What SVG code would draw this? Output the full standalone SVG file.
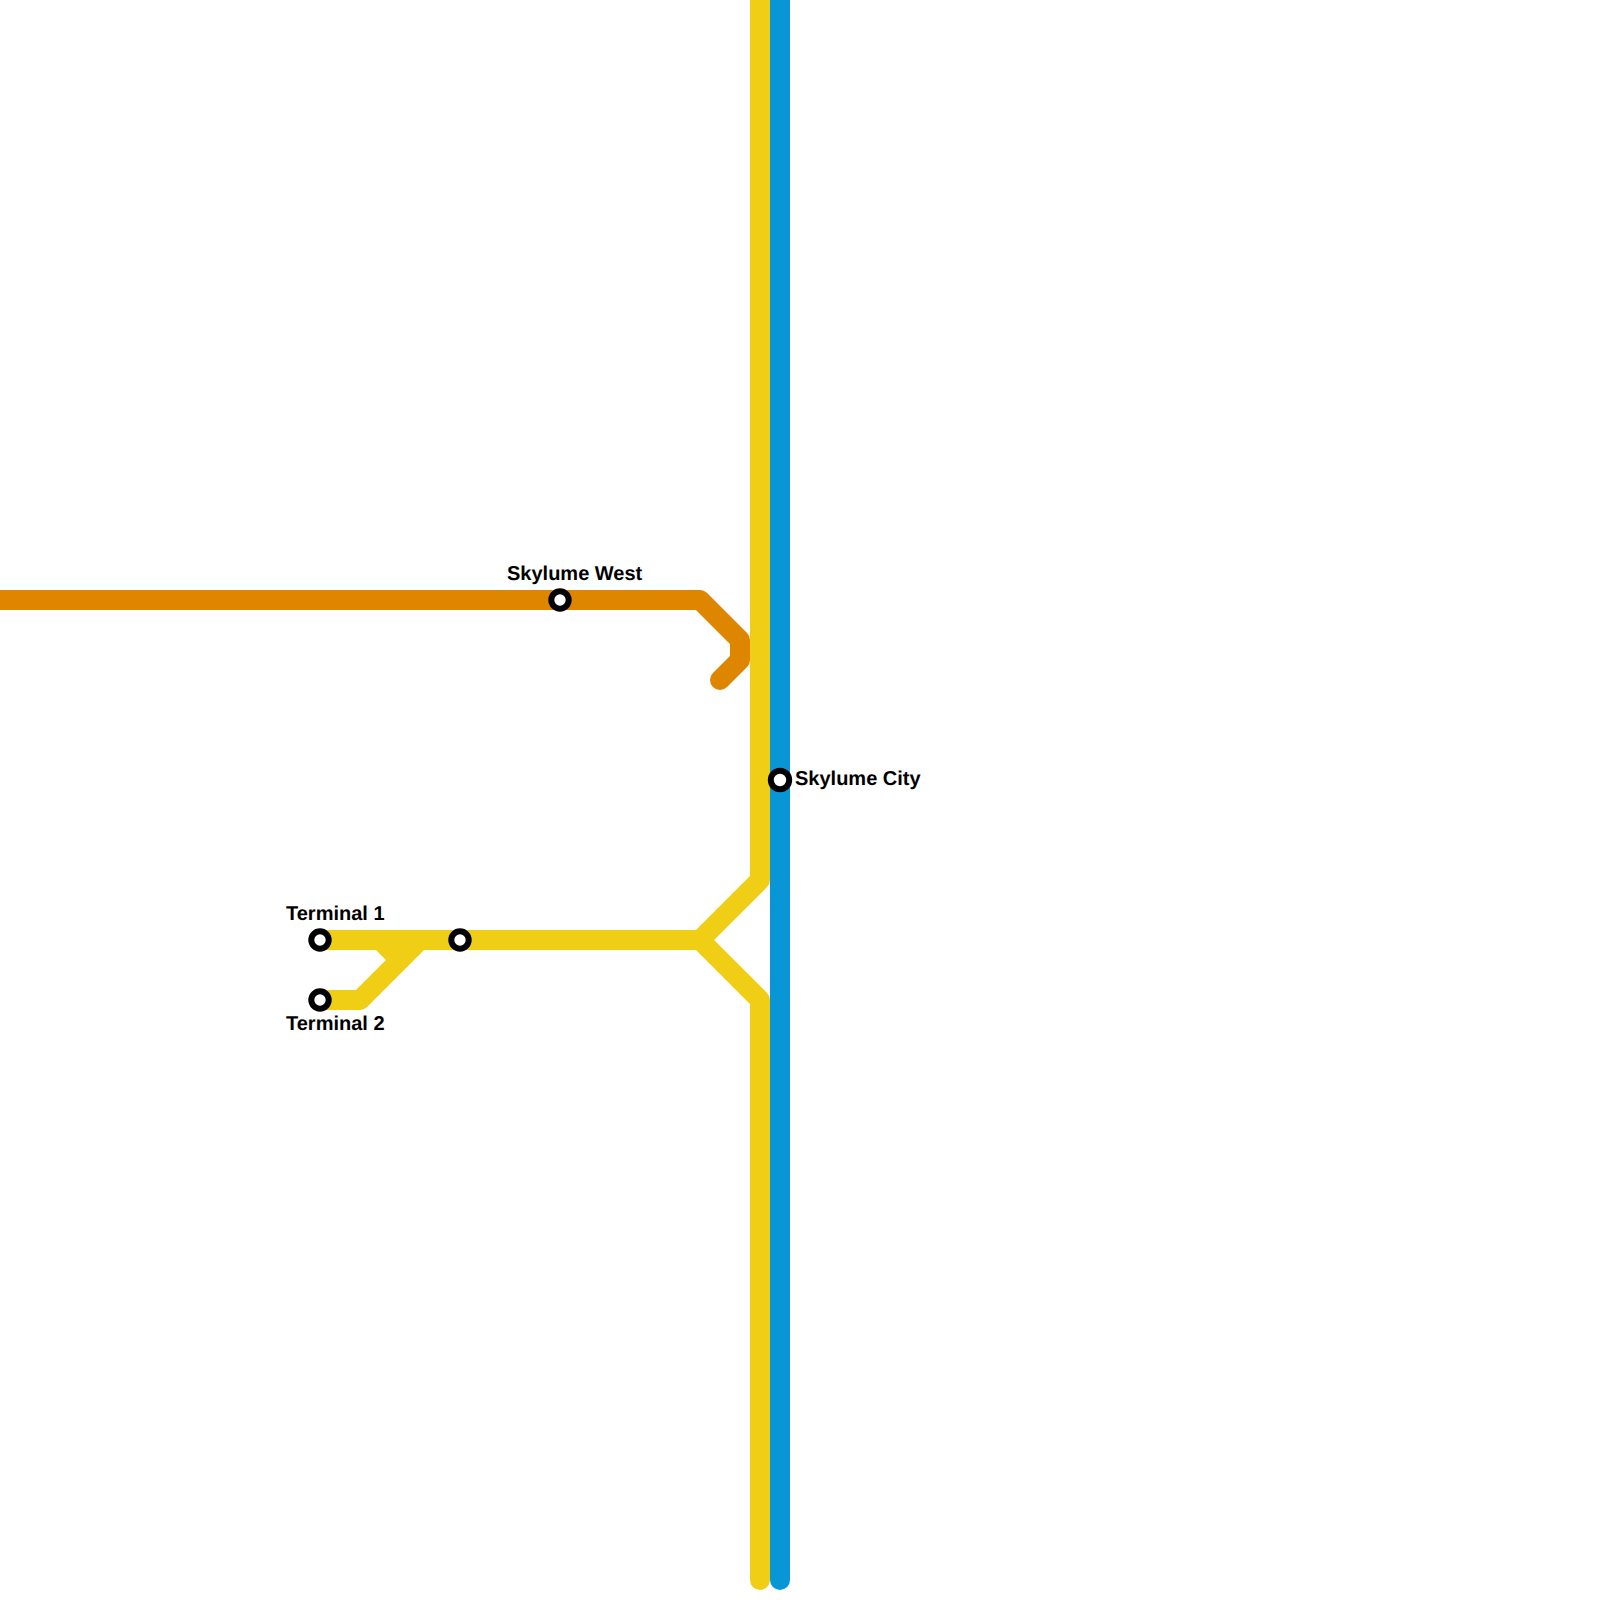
<svg xmlns="http://www.w3.org/2000/svg" width="1600" height="1600" viewBox="0 0 1600 1600">
<style>
.line{fill:none;stroke-width:20;stroke-linecap:round;stroke-linejoin:round}
.o{stroke:#df8600}.y{stroke:#f0ce15}.b{stroke:#0996d7}
.st{fill:#fff;stroke:#000;stroke-width:6}
text{font-family:"Liberation Sans",Arial,sans-serif;font-weight:700;font-size:20px;fill:#000;text-rendering:geometricPrecision}
</style>
<rect width="1600" height="1600" fill="#fff"/>
<g id="connectors">
<path id="line-orange" class="line o" d="M-20 600H700L740 640V660L720 680"/>
<path id="line-yellow-main" class="line y" d="M760 -20V880L700 940L760 1000V1580"/>
<path id="line-yellow-t1" class="line y" d="M320 940H700"/>
<path id="line-yellow-t2" class="line y" d="M320 1000H360L420 940"/>
<path id="line-yellow-link" class="line y" d="M380 940L400 960"/>
<path id="line-blue" class="line b" d="M780 -20V1580"/>
</g>
<g id="skylume-west"><circle class="st" cx="560" cy="600" r="8.7"/><text x="507" y="580">Skylume West</text></g>
<g id="skylume-city"><circle class="st" cx="780" cy="780" r="9.2"/><text x="795" y="785">Skylume City</text></g>
<g id="terminal-1"><circle class="st" cx="320" cy="940" r="8.7"/><text x="286" y="920">Terminal 1</text></g>
<g id="terminal-2"><circle class="st" cx="320" cy="1000" r="8.7"/><text x="286" y="1030">Terminal 2</text></g>
<g id="unnamed-station"><circle class="st" cx="460" cy="940" r="8.7"/></g>
</svg>
